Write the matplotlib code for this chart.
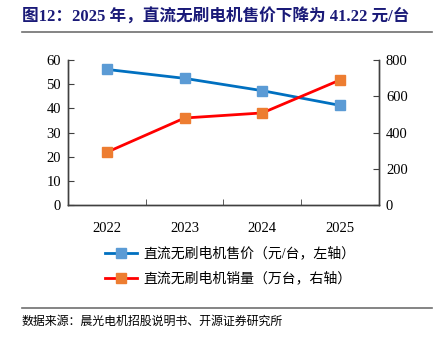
import matplotlib
matplotlib.use("Agg")
import matplotlib.pyplot as plt
from matplotlib.lines import Line2D

years = ["2022", "2023", "2024", "2025"]
price = [56.1, 52.4, 47.3, 41.22]
sales = [291, 480, 508, 690]
left_ticks = [0, 10, 20, 30, 40, 50, 60]
right_ticks = [0, 200, 400, 600, 800]
title = "图12：2025 年，直流无刷电机售价下降为 41.22 元/台"
label_price = "直流无刷电机售价（元/台，左轴）"
label_sales = "直流无刷电机销量（万台，右轴）"
source = "数据来源：晨光电机招股说明书、开源证券研究所"

FONTS = ["Liberation Serif", "Noto Sans CJK SC"]
plt.rcParams["font.family"] = FONTS

W, H = 439, 338
fig = plt.figure(figsize=(W / 100, H / 100), dpi=100)
ax = fig.add_axes([68 / W, (H - 205) / H, (379 - 68) / W, 145 / H])
ax2 = ax.twinx()

x = list(range(len(years)))
ax.plot(x, price, color="#0070C0", lw=2.0, marker="s", ms=6.5,
        mfc="#5B9BD5", mec="#5B9BD5", zorder=3)
ax2.plot(x, sales, color="#FF0000", lw=2.0, marker="s", ms=6.5,
         mfc="#ED7D31", mec="#ED7D31", zorder=3)

ax.set_xlim(-0.5, 3.5)
ax.set_ylim(0, 60)
ax2.set_ylim(0, 800)
ax.set_yticks(left_ticks)
ax2.set_yticks(right_ticks)
ax.set_xticks(x)
ax.set_xticklabels(years)
ax.set_xticks([0.5, 1.5, 2.5], minor=True)

for a in (ax, ax2):
    a.spines["top"].set_visible(False)
    for s in a.spines.values():
        s.set_color("#404040")
        s.set_linewidth(1.0)
ax.tick_params(axis="x", which="major", length=0, pad=12, labelsize=10.5)
ax.tick_params(axis="x", which="minor", length=4, direction="in", color="#404040")
ax.tick_params(axis="y", length=4, direction="in", labelsize=10.5, pad=5, color="#404040")
ax2.tick_params(axis="y", length=4, direction="in", labelsize=10.5, pad=5, color="#404040")

handles = [
    Line2D([], [], color="#0070C0", lw=2.0, marker="s", ms=6.5, mfc="#5B9BD5", mec="#5B9BD5"),
    Line2D([], [], color="#FF0000", lw=2.0, marker="s", ms=6.5, mfc="#ED7D31", mec="#ED7D31"),
]
fig.legend(handles, [label_price, label_sales], loc="upper left",
           bbox_to_anchor=(98 / W, 1 - 240 / H), frameon=False,
           prop={"family": FONTS, "size": 10}, handlelength=2.3,
           handletextpad=0.45, labelspacing=0.8, borderpad=0)

fig.text(22 / W, 1 - 17 / H, title, fontsize=12, fontweight="bold",
         color="#1A1A78", va="center", ha="left", family=FONTS)
fig.add_artist(Line2D([22 / W, 432 / W], [1 - 32 / H, 1 - 32 / H],
                      color="#6F6F6F", lw=1.2))
fig.add_artist(Line2D([22 / W, 432 / W], [1 - 308 / H, 1 - 308 / H],
                      color="#6F6F6F", lw=1.2))
fig.text(22 / W, 1 - 322 / H, source, fontsize=8.6, color="#000000",
         va="center", ha="left", family=FONTS)

fig.savefig("out.png", dpi=100)
